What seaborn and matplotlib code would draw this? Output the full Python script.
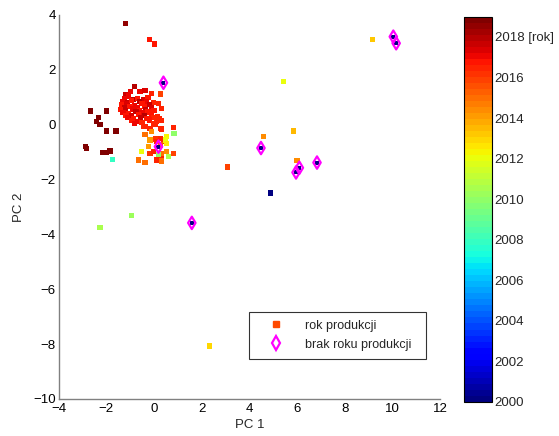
import numpy as np
import pandas as pd
import matplotlib
matplotlib.use("Agg")
import matplotlib.pyplot as plt
from matplotlib.lines import Line2D
import seaborn as sns

# ---- data: samples with production year ----
pc1 = [
    # far / sparse points
    9.18, 5.43, 5.84, 4.59, 6.00, 3.10, 4.90, 2.33,
    -0.93, -2.26, -1.73,
    # dark red group on the left
    -2.65, -1.99, -2.33, -2.40, -2.26, -1.99, -1.59, -2.86, -2.82,
    -2.00, -2.15, -1.84, -1.18, -0.19, 0.02,
    # main blob
    -0.83, -0.97, -0.58, -0.37, -0.09, 0.26, -1.18, -1.05,
    -1.25, -0.85, -0.70, -0.45, -0.25,
    -1.30, -1.10, -0.95, -0.60, -0.30, -0.02,
    -1.35, -1.15, -0.80, -0.50, -0.20, 0.19,
    -1.25, -1.00, -0.70, -0.40, -0.10,
    -1.40, -1.20, -0.90, -0.60, -0.35, 0.00, 0.33,
    -1.30, -1.05, -0.75, -0.50, -0.25,
    -1.20, -0.95, -0.65, -0.40, -0.10, 0.15,
    -1.10, -0.85, -0.55, -0.30, -0.02, 0.25,
    -0.95, -0.70, -0.20, 0.10, 0.30,
    -0.80, -0.50, 0.00, -0.37, 0.05,
    # lower part of the cluster
    0.82, -0.44, 0.33, -0.16, 0.26, -0.09, 0.84, -0.37, 0.05, 0.26, 0.54,
    -0.16, 0.12, 0.40, 0.47, -0.23, 0.26, 0.54,
    -0.51, -0.16, -0.02, 0.33, 0.54, 0.61, 0.82,
    -0.65, -0.37, 0.12, 0.33, 0.33, 0.19,
]
pc2 = [
    3.11, 1.59, -0.23, -0.44, -1.30, -1.54, -2.49, -8.07,
    -3.30, -3.74, -1.26,
    0.50, 0.50, 0.27, 0.13, 0.01, -0.23, -0.23, -0.78, -0.86,
    -1.02, -1.00, -0.96, 3.70, 3.11, 2.94,
    1.40, 1.22, 1.20, 1.24, 1.15, 1.12, 1.08, 1.05,
    0.97, 0.93, 0.96, 0.92, 0.98,
    0.85, 0.82, 0.87, 0.84, 0.86, 0.80,
    0.73, 0.76, 0.71, 0.77, 0.74, 0.78,
    0.63, 0.66, 0.62, 0.67, 0.64,
    0.55, 0.52, 0.57, 0.53, 0.56, 0.51, 0.58,
    0.45, 0.42, 0.47, 0.43, 0.46,
    0.35, 0.32, 0.37, 0.33, 0.36, 0.30,
    0.25, 0.22, 0.27, 0.23, 0.26, 0.21,
    0.15, 0.12, 0.17, 0.13, 0.16,
    0.05, 0.07, 0.03, -0.07, 0.00,
    -0.10, -0.07, -0.16, -0.13, -0.13, -0.25, -0.31, -0.37, -0.52, -0.50, -0.44,
    -0.56, -0.62, -0.62, -0.56, -0.80, -0.74, -0.68,
    -0.98, -1.04, -0.98, -1.04, -0.98, -1.17, -1.04,
    -1.29, -1.37, -1.29, -1.22, -1.32, -1.10,
]
year = [
    2013.3, 2012.0, 2013.5, 2014.5, 2014.5, 2015.8, 2000.0, 2013.0,
    2010.3, 2010.5, 2008.0,
    2018.8, 2018.8, 2018.8, 2018.8, 2018.8, 2018.8, 2018.8, 2018.8, 2018.8,
    2018.8, 2018.8, 2018.8, 2018.6, 2016.8, 2016.8,
    2018.0, 2017.2, 2017.0, 2017.4, 2016.6, 2015.8, 2017.6, 2017.0,
    2017.2, 2018.0, 2016.8, 2017.5, 2016.8,
    2017.0, 2017.6, 2016.8, 2018.0, 2017.0, 2016.6,
    2016.8, 2017.3, 2017.0, 2016.8, 2017.8, 2016.4,
    2017.6, 2016.8, 2017.2, 2016.8, 2017.4,
    2016.8, 2017.8, 2017.0, 2016.8, 2017.6, 2016.8, 2016.5,
    2017.2, 2016.8, 2017.8, 2017.0, 2016.8,
    2016.8, 2017.4, 2016.8, 2018.0, 2016.8, 2016.6,
    2017.0, 2016.8, 2017.6, 2016.8, 2016.6, 2016.4,
    2016.8, 2017.2, 2016.8, 2016.6, 2016.4,
    2017.0, 2016.6, 2016.4, 2016.4, 2016.4,
    2016.6, 2016.6, 2016.6, 2016.4, 2016.6, 2014.5, 2010.0, 2015.0, 2016.2, 2016.5, 2012.3,
    2014.0, 2016.5, 2016.6, 2012.0, 2014.2, 2015.2, 2012.5,
    2012.0, 2016.2, 2016.4, 2015.0, 2014.5, 2010.5, 2016.0,
    2015.0, 2015.0, 2016.5, 2016.4, 2015.0, 2010.0,
]

# ---- data: samples without production year ----
nd_pc1 = [0.40, 0.19, 1.59, 4.49, 5.96, 6.10, 6.84, 10.04, 10.16]
nd_pc2 = [1.53, -0.80, -3.58, -0.85, -1.74, -1.57, -1.38, 3.21, 2.97]

x_ticks = [-4, -2, 0, 2, 4, 6, 8, 10, 12]
y_ticks = [4, 2, 0, -2, -4, -6, -8, -10]
cb_ticks = [2000, 2002, 2004, 2006, 2008, 2010, 2012, 2014, 2016, 2018]
cb_labels = ["2000", "2002", "2004", "2006", "2008", "2010", "2012", "2014", "2016", "2018 [rok]"]

sns.set_style("white")
plt.rcParams["font.family"] = ["Liberation Sans", "DejaVu Sans"]

df = pd.DataFrame({"PC1": pc1, "PC2": pc2, "rok": year})
nd = pd.DataFrame({"PC1": nd_pc1, "PC2": nd_pc2})

cmap = plt.get_cmap("jet", 64)
norm = matplotlib.colors.Normalize(vmin=2000, vmax=2019)

fig = plt.figure(figsize=(5.59, 4.36), dpi=100)
ax = fig.add_axes([0.1047, 0.0849, 0.6825, 0.8807])

sns.scatterplot(data=df, x="PC1", y="PC2", hue="rok", palette=cmap, hue_norm=norm,
                marker="s", s=14, linewidth=0, legend=False, ax=ax, zorder=3)
sns.scatterplot(data=nd, x="PC1", y="PC2", color=cmap(0.0), marker="s", s=8,
                linewidth=0, legend=False, ax=ax, zorder=4)
sns.scatterplot(data=nd, x="PC1", y="PC2", marker="d", s=40, facecolors="none",
                edgecolor="#ff00ff", linewidth=1.6, legend=False, ax=ax, zorder=5)

ax.set_xlim(-4, 12)
ax.set_ylim(-10, 4)
ax.set_xticks(x_ticks)
ax.set_yticks(y_ticks)
ax.set_xlabel("PC 1", fontsize=9.5, labelpad=3)
ax.set_ylabel("PC 2", fontsize=9.5, labelpad=6)
for side in ["top", "right"]:
    ax.spines[side].set_visible(False)
for side in ["left", "bottom"]:
    ax.spines[side].set_color("#808080")
    ax.spines[side].set_linewidth(1.0)
ax.tick_params(direction="in", length=4, width=0.8, color="#808080",
               labelsize=9.5, labelcolor="black", pad=2)
ax.tick_params(axis="x", pad=3)

handles = [
    Line2D([], [], marker="s", linestyle="none", color="#ff4a00", markersize=5),
    Line2D([], [], marker="d", linestyle="none", markerfacecolor="none",
           markeredgecolor="#ff00ff", markeredgewidth=1.6, markersize=7),
]
leg = ax.legend(handles, ["rok produkcji", "brak roku produkcji"],
                loc="lower left", bbox_to_anchor=(0.499, 0.105, 0.464, 0.13),
                mode="expand", fontsize=9, frameon=True, fancybox=False,
                borderpad=0.65, handlelength=3.0, handletextpad=0.8,
                labelspacing=0.55, borderaxespad=0)
leg.get_frame().set_edgecolor("black")
leg.get_frame().set_linewidth(0.8)

cax = fig.add_axes([0.830, 0.0787, 0.050, 0.883])
sm = matplotlib.cm.ScalarMappable(norm=norm, cmap=cmap)
cb = fig.colorbar(sm, cax=cax)
cb.set_ticks(cb_ticks)
cb.set_ticklabels(cb_labels)
cb.outline.set_edgecolor("black")
cb.outline.set_linewidth(0.8)
cax.tick_params(direction="in", length=3, width=0.7, left=True, right=True,
                labelsize=9.5, pad=2, color="#333333")

fig.savefig("out.png", dpi=100)
